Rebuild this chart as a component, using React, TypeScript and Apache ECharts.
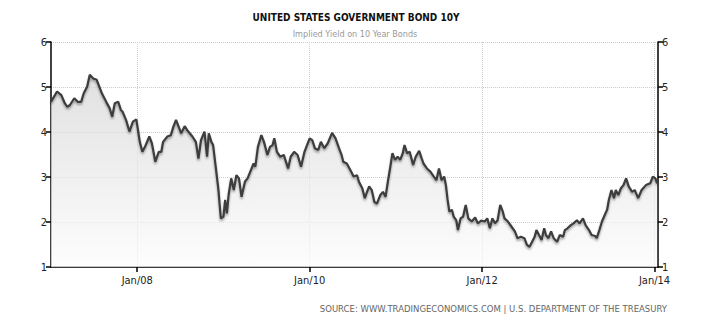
import React, { useEffect, useRef } from "react";
import * as echarts from "echarts";

// decimal year of each observation
const years: number[] = [
  2007.00, 2007.07, 2007.12, 2007.16, 2007.19, 2007.22, 2007.27, 2007.31, 2007.35, 2007.38,
  2007.42, 2007.45, 2007.49, 2007.53, 2007.56, 2007.59, 2007.64, 2007.68, 2007.71, 2007.74,
  2007.78, 2007.81, 2007.83, 2007.87, 2007.91, 2007.95, 2007.99, 2008.02, 2008.03, 2008.06,
  2008.09, 2008.14, 2008.17, 2008.21, 2008.25, 2008.28, 2008.30, 2008.35, 2008.39, 2008.42,
  2008.45, 2008.48, 2008.51, 2008.55, 2008.58, 2008.64, 2008.68, 2008.71, 2008.74, 2008.78,
  2008.81, 2008.83, 2008.86, 2008.88, 2008.91, 2008.94, 2008.97, 2009.00, 2009.02, 2009.04,
  2009.06, 2009.09, 2009.12, 2009.15, 2009.18, 2009.21, 2009.25, 2009.28, 2009.32, 2009.35,
  2009.37, 2009.40, 2009.44, 2009.47, 2009.51, 2009.54, 2009.57, 2009.59, 2009.62, 2009.66,
  2009.70, 2009.75, 2009.78, 2009.82, 2009.86, 2009.90, 2009.94, 2009.97, 2010.00, 2010.03,
  2010.06, 2010.10, 2010.13, 2010.17, 2010.21, 2010.26, 2010.30, 2010.34, 2010.37, 2010.39,
  2010.43, 2010.47, 2010.51, 2010.55, 2010.57, 2010.61, 2010.64, 2010.66, 2010.69, 2010.72,
  2010.75, 2010.78, 2010.82, 2010.85, 2010.88, 2010.91, 2010.93, 2010.96, 2010.99, 2011.02,
  2011.05, 2011.08, 2011.10, 2011.13, 2011.16, 2011.20, 2011.23, 2011.27, 2011.30, 2011.32,
  2011.36, 2011.40, 2011.44, 2011.47, 2011.50, 2011.53, 2011.56, 2011.58, 2011.60, 2011.62,
  2011.65, 2011.67, 2011.70, 2011.72, 2011.75, 2011.78, 2011.81, 2011.84, 2011.88, 2011.92,
  2011.95, 2011.99, 2012.03, 2012.06, 2012.09, 2012.12, 2012.15, 2012.18, 2012.21, 2012.24,
  2012.26, 2012.30, 2012.34, 2012.38, 2012.41, 2012.45, 2012.49, 2012.52, 2012.55, 2012.58,
  2012.61, 2012.63, 2012.66, 2012.69, 2012.72, 2012.74, 2012.77, 2012.80, 2012.83, 2012.87,
  2012.90, 2012.94, 2012.96, 2012.99, 2013.03, 2013.06, 2013.10, 2013.13, 2013.17, 2013.20,
  2013.24, 2013.27, 2013.31, 2013.33, 2013.36, 2013.39, 2013.43, 2013.45, 2013.47, 2013.50,
  2013.53, 2013.55, 2013.58, 2013.61, 2013.64, 2013.67, 2013.70, 2013.74, 2013.77, 2013.81,
  2013.85, 2013.90, 2013.95, 2013.98, 2014.01, 2014.03,
];

// 10-year yield, percent
const yields: number[] = [
  4.67, 4.90, 4.82, 4.64, 4.56, 4.60, 4.75, 4.67, 4.67, 4.86,
  5.01, 5.27, 5.19, 5.16, 5.01, 4.86, 4.67, 4.53, 4.34, 4.64,
  4.67, 4.49, 4.45, 4.27, 4.01, 4.23, 4.28, 3.90, 3.78, 3.56,
  3.67, 3.90, 3.75, 3.34, 3.56, 3.56, 3.78, 3.90, 3.93, 4.12,
  4.27, 4.12, 3.97, 4.13, 4.04, 3.90, 3.78, 3.41, 3.82, 4.01,
  3.45, 3.97, 3.78, 3.71, 3.23, 2.75, 2.08, 2.12, 2.49, 2.19,
  2.60, 2.97, 2.71, 3.04, 2.97, 2.56, 2.90, 2.97, 3.16, 3.30,
  3.23, 3.67, 3.93, 3.78, 3.49, 3.67, 3.71, 3.86, 3.56, 3.45,
  3.49, 3.19, 3.45, 3.56, 3.49, 3.23, 3.56, 3.71, 3.86, 3.82,
  3.64, 3.60, 3.78, 3.64, 3.75, 3.98, 3.86, 3.64, 3.49, 3.34,
  3.30, 3.16, 3.01, 3.04, 2.90, 2.75, 2.53, 2.64, 2.79, 2.71,
  2.45, 2.41, 2.60, 2.67, 2.56, 2.93, 3.16, 3.53, 3.38, 3.45,
  3.38, 3.53, 3.71, 3.53, 3.56, 3.27, 3.45, 3.58, 3.41, 3.30,
  3.19, 3.12, 3.01, 2.93, 3.19, 2.93, 3.01, 2.82, 2.49, 2.23,
  2.27, 2.12, 2.04, 1.82, 2.08, 2.12, 2.38, 2.08, 2.01, 2.10,
  1.97, 2.03, 2.01, 2.08, 1.86, 2.08, 1.97, 2.04, 2.38, 2.23,
  2.08, 2.01, 1.90, 1.79, 1.64, 1.67, 1.64, 1.49, 1.45, 1.56,
  1.67, 1.82, 1.71, 1.60, 1.86, 1.71, 1.64, 1.79, 1.64, 1.56,
  1.71, 1.67, 1.82, 1.86, 1.93, 1.97, 2.04, 1.97, 2.08, 1.93,
  1.82, 1.71, 1.69, 1.64, 1.82, 2.01, 2.19, 2.27, 2.49, 2.71,
  2.53, 2.71, 2.60, 2.75, 2.82, 2.97, 2.79, 2.67, 2.71, 2.53,
  2.71, 2.82, 2.86, 3.01, 2.97, 2.86,
];

const xTickYears: number[] = [2008, 2010, 2012, 2014];
const yTicks: number[] = [1, 2, 3, 4, 5, 6];

const titleText = "UNITED STATES GOVERNMENT BOND 10Y";
const subtitleText = "Implied Yield on 10 Year Bonds";
const sourceText = "SOURCE: WWW.TRADINGECONOMICS.COM | U.S. DEPARTMENT OF THE TREASURY";

export default function App() {
  const ref = useRef<HTMLDivElement>(null);

  useEffect(() => {
    if (!ref.current) return;
    const chart = echarts.init(ref.current, undefined, { renderer: "svg" });
    const data = years.map((y, i) => [y, yields[i]]);
    const font = "DejaVu Sans Condensed";
    const yAxisBase = {
      type: "value",
      min: yTicks[0],
      max: yTicks[yTicks.length - 1],
      interval: 1,
      axisLine: { show: true, lineStyle: { color: "#000", width: 1.5 } },
      axisTick: { show: true, length: 5, lineStyle: { color: "#000", width: 1.5 } },
      axisLabel: { color: "#222", fontSize: 11, fontFamily: font, margin: 4 },
    };
    chart.setOption({
      animation: false,
      backgroundColor: "#fff",
      grid: { left: 51, right: 52, top: 42, bottom: 58 },
      graphic: [
        {
          type: "text",
          x: 356,
          y: 17,
          style: {
            text: titleText,
            fill: "#111",
            font: `bold 10px '${font}'`,
            align: "center",
            verticalAlign: "middle",
          },
        },
        {
          type: "text",
          x: 355,
          y: 34,
          style: {
            text: subtitleText,
            fill: "#999",
            font: `9px '${font}'`,
            align: "center",
            verticalAlign: "middle",
          },
        },
        {
          type: "text",
          x: 667,
          y: 309,
          style: {
            text: sourceText,
            fill: "#666",
            font: `8.5px 'DejaVu Sans'`,
            align: "right",
            verticalAlign: "middle",
          },
        },
      ],
      xAxis: {
        type: "value",
        min: 2007,
        max: 2014.04,
        axisLine: { show: true, onZero: false, lineStyle: { color: "#000", width: 1.5 } },
        axisTick: {
          show: true,
          length: 5,
          customValues: xTickYears,
          lineStyle: { color: "#000", width: 1.5 },
        },
        axisLabel: {
          customValues: xTickYears,
          color: "#222",
          fontSize: 11,
          fontFamily: font,
          margin: 8,
          formatter: (v: number) => "Jan/" + String(Math.round(v)).slice(2),
        },
        splitLine: { show: true, lineStyle: { color: "#ccc", type: "dotted", width: 1 } },
      },
      yAxis: [
        {
          ...yAxisBase,
          position: "left",
          splitLine: { show: true, lineStyle: { color: "#ccc", type: "dotted", width: 1 } },
        },
        {
          ...yAxisBase,
          position: "right",
          splitLine: { show: false },
        },
      ],
      series: [
        {
          type: "line",
          data,
          symbol: "none",
          lineStyle: {
            color: "#3c3c3c",
            width: 2.2,
            shadowColor: "rgba(0,0,0,0.35)",
            shadowBlur: 2,
            shadowOffsetY: 2,
          },
          areaStyle: {
            color: new echarts.graphic.LinearGradient(0, 0, 0, 1, [
              { offset: 0, color: "#d4d4d4" },
              { offset: 1, color: "#fcfcfc" },
            ]),
          },
        },
      ],
    });
    return () => chart.dispose();
  }, []);

  return (
    <div
      ref={ref}
      style={{ position: "absolute", left: 0, top: 0, width: 710, height: 325 }}
    />
  );
}
